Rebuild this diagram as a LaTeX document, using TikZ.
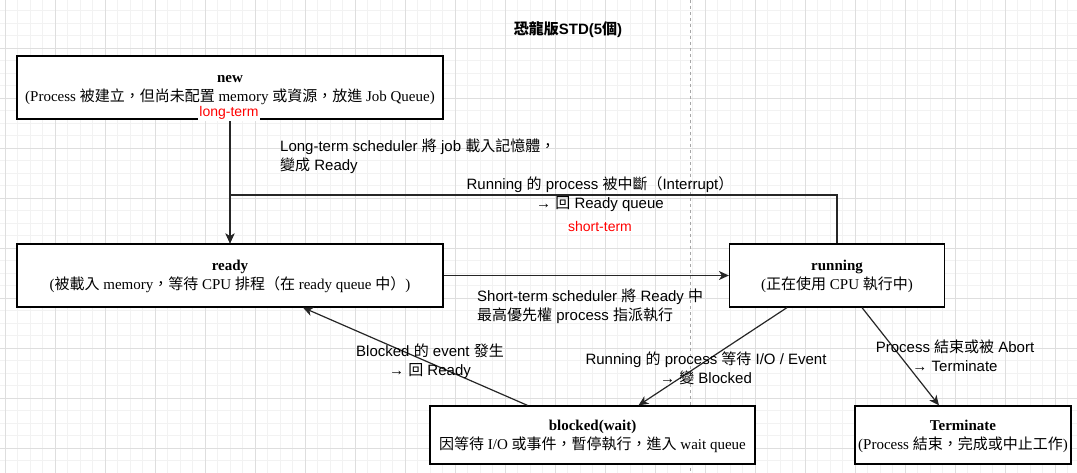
\documentclass[tikz,border=0pt]{standalone}
\usepackage{fontspec}
\setmainfont{Liberation Sans}
\newfontfamily\tnr{Liberation Serif}
\newfontfamily\cjk{Noto Sans CJK TC}
\usetikzlibrary{arrows.meta}
\def\zh#1{{\cjk #1}}
\def\bstrut{\rule[-4bp]{0pt}{17.5bp}}
\def\statetext#1#2{\bstrut\textbf{#1}\\\bstrut#2}
\tikzset{
  statebox/.style={draw=black, line width=1.2bp, fill=white, align=center, inner sep=0pt,
    font=\tnr\fontsize{15bp}{18.5bp}\selectfont},
  trans/.style={draw=black!85, line width=1.2bp, -{Stealth[length=10bp,width=9bp,inset=3bp]}},
  translbl/.style={align=center, inner sep=0pt, font=\fontsize{15bp}{19bp}\selectfont},
  schedtag/.style={text=red, fill=white, inner sep=1bp, font=\fontsize{14bp}{16bp}\selectfont},
  gridminor/.style={draw=black!5, line width=0.8bp},
  gridmajor/.style={draw=black!13, line width=0.8bp}
}

\begin{document}
\begin{tikzpicture}[x=1bp, y=-1bp]
	%%%%% BACKGROUND %%%%%
	\useasboundingbox[fill=white] (0,0) rectangle (1077,473);
	\foreach \gx in {5,17.5,...,1077} \draw[gridminor] (\gx,0) -- (\gx,473);
	\foreach \gy in {10.5,23,...,473} \draw[gridminor] (0,\gy) -- (1077,\gy);
	\foreach \gx in {5,55,...,1077} \draw[gridmajor] (\gx,0) -- (\gx,473);
	\foreach \gy in {48,98,...,473} \draw[gridmajor] (0,\gy) -- (1077,\gy);
	\draw[black!35, line width=0.8bp, dash pattern=on 3bp off 3bp] (690,0) -- (690,473);
	
	\node[font=\bfseries\fontsize{15bp}{18bp}\selectfont] (title) at (568,30) {\zh{恐龍版}STD(5\zh{個})};
	
	%%%%% STATES %%%%%
	\node[statebox, minimum width=426bp, minimum height=63bp] (new) at (230,87.5)
		{\statetext{new}{(Process \zh{被建立，但尚未配置} memory \zh{或資源，放進} Job Queue)}};
	\node[statebox, minimum width=426bp, minimum height=63bp] (ready) at (230,275.5)
		{\statetext{ready}{(\zh{被載入} memory\zh{，等待} CPU \zh{排程（在} ready queue \zh{中）})}};
	\node[statebox, minimum width=215bp, minimum height=63bp] (running) at (837,275.5)
		{\statetext{running}{(\zh{正在使用} CPU \zh{執行中})}};
	\node[statebox, minimum width=325bp, minimum height=58bp] (blocked) at (592.5,435)
		{\statetext{blocked(wait)}{\zh{因等待} I/O \zh{或事件，暫停執行，進入} wait queue}};
	\node[statebox, minimum width=216bp, minimum height=58bp] (term) at (963,435)
		{\statetext{Terminate}{(Process \zh{結束，完成或中止工作})}};
	
	%%%%% TRANSITIONS %%%%%
	\coordinate (join) at (230,195);
	\draw[trans] (new) -- (ready);
	\draw[trans] (running.north) |- (join) -- (ready.north);
	\draw[trans] (ready) -- (running);
	\draw[trans] ([xshift=-50bp]running.south) -- ([xshift=46bp]blocked.north);
	\draw[trans] ([xshift=25bp]running.south) -- ([xshift=-24bp]term.north);
	\draw[trans] ([xshift=-65bp]blocked.north) -- ([xshift=73bp]ready.south);
	
	\node[schedtag] (longtag) at (229,113) {long-term};
	\node[schedtag] (shorttag) at (600,226) {short-term};
	
	\node[translbl, anchor=west, align=left] (admit) at (280,156.5)
		{Long-term scheduler \zh{將} job \zh{載入記憶體，}\\\zh{變成} Ready};
	\node[translbl] (interrupt) at (600,194)
		{Running \zh{的} process \zh{被中斷（}Interrupt\zh{）}\\→ \zh{回} Ready queue};
	\node[translbl, anchor=west, align=left] (dispatch) at (477,306)
		{Short-term scheduler \zh{將} Ready \zh{中}\\\zh{最高優先權} process \zh{指派執行}};
	\node[translbl] (wakeup) at (430,361)
		{Blocked \zh{的} event \zh{發生}\\→ \zh{回} Ready};
	\node[translbl] (wait) at (706,368)
		{Running \zh{的} process \zh{等待} I/O / Event\\→ \zh{變} Blocked};
	\node[translbl] (exit) at (955,356)
		{Process \zh{結束或被} Abort\\→ Terminate};
\end{tikzpicture}
\end{document}
